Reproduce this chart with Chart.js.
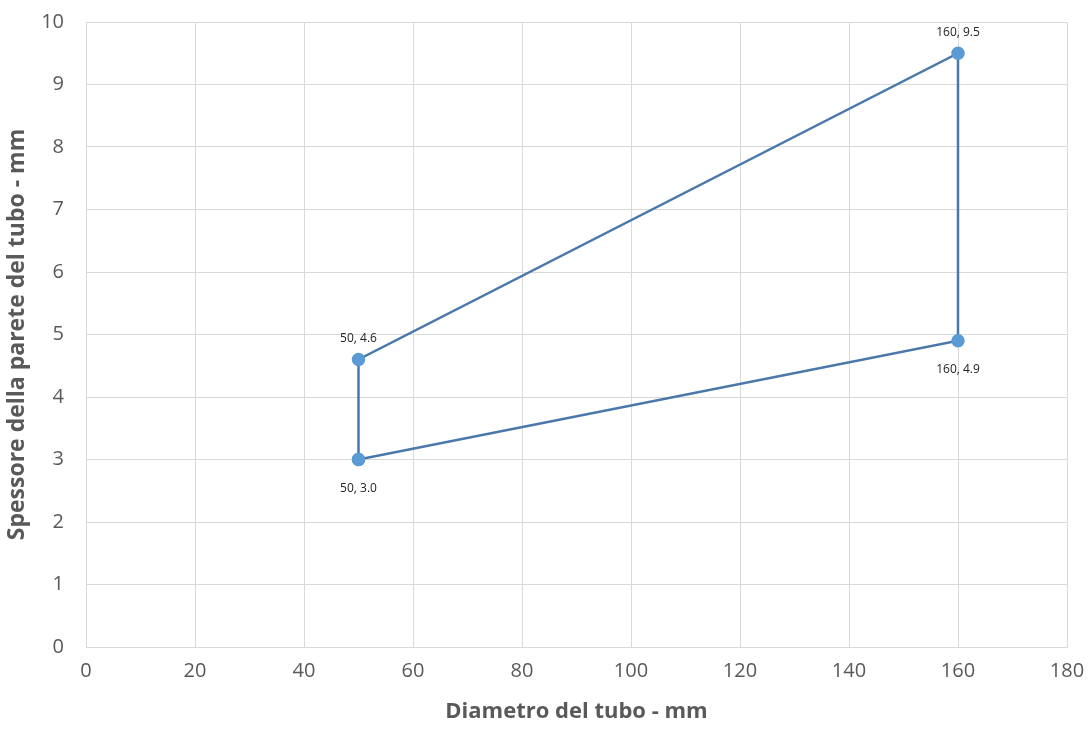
<!DOCTYPE html>
<html>
<head>
<meta charset="utf-8">
<script src="https://cdn.jsdelivr.net/npm/chart.js@4/dist/chart.umd.min.js"></script>
<style>
  html, body { margin: 0; padding: 0; background: #fff; }
  #wrap { width: 1089px; height: 729px; }
</style>
</head>
<body>
<div id="wrap"><canvas id="chart" width="1089" height="729"></canvas></div>
<script>
// Polygon outline (closed): points in drawing order
const diametro = [50, 160, 160, 50, 50];
const spessore = [3.0, 4.9, 9.5, 4.6, 3.0];
const etichette = ['50, 3.0', '160, 4.9', '160, 9.5', '50, 4.6', ''];

const xTitle = 'Diametro del tubo - mm';
const yTitle = 'Spessore della parete del tubo - mm';

// small plugin to write the data labels next to each point
const pointLabels = {
    id: 'pointLabels',
    afterDatasetsDraw(chart) {
        const ctx = chart.ctx;
        const meta = chart.getDatasetMeta(0);
        ctx.save();
        ctx.font = '12px "Open Sans", "Liberation Sans", sans-serif';
        ctx.fillStyle = '#222';
        ctx.textAlign = 'center';
        ctx.textBaseline = 'middle';
        meta.data.forEach((pt, i) => {
            const txt = etichette[i];
            if (!txt) return;
            // the lower two points get their label underneath
            const below = i < 2;
            ctx.fillText(txt, pt.x, below ? pt.y + 29 : pt.y - 21);
        });
        ctx.restore();
    }
};

const tickFont = { family: '"Open Sans", "Liberation Sans", sans-serif', size: 20 };
const xTitleFont = { family: '"Open Sans", "Liberation Sans", sans-serif', size: 22, weight: 'bold' };
const yTitleFont = { family: '"Open Sans", "Liberation Sans", sans-serif', size: 23, weight: 'bold' };

new Chart(document.getElementById('chart').getContext('2d'), {
    type: 'scatter',
    data: {
        datasets: [{
            data: diametro.map((d, i) => ({ x: d, y: spessore[i] })),
            showLine: true,
            borderColor: '#4a78aa',
            borderWidth: 2.5,
            backgroundColor: '#5b9bd5',
            pointBackgroundColor: '#5b9bd5',
            pointBorderColor: '#5b9bd5',
            pointRadius: 5.5,
            tension: 0
        }]
    },
    options: {
        responsive: false,
        animation: false,
        layout: { padding: { left: 0, right: 22, top: 22, bottom: 0 } },
        plugins: {
            legend: { display: false },
            tooltip: { enabled: false }
        },
        scales: {
            x: {
                type: 'linear',
                min: 0,
                max: 180,
                ticks: { stepSize: 20, color: '#595959', font: tickFont, padding: 12 },
                grid: { color: '#d9d9d9', lineWidth: 1, drawTicks: false },
                border: { color: '#d9d9d9' },
                title: { display: true, text: xTitle, color: '#595959', font: xTitleFont, padding: { top: 12 } },
                afterFit(scale) {
                    scale.height = 82;
                    scale.paddingRight = 0;
                    scale.paddingLeft = 0;
                }
            },
            y: {
                min: 0,
                max: 10,
                ticks: { stepSize: 1, color: '#595959', font: tickFont, padding: 22 },
                grid: { color: '#d9d9d9', lineWidth: 1, drawTicks: false },
                border: { color: '#d9d9d9' },
                title: { display: true, text: yTitle, color: '#595959', font: yTitleFont, padding: { bottom: 4 } },
                afterFit(scale) {
                    scale.width = 86;
                    scale.paddingTop = 0;
                    scale.paddingBottom = 0;
                }
            }
        }
    },
    plugins: [pointLabels]
});
</script>
</body>
</html>
